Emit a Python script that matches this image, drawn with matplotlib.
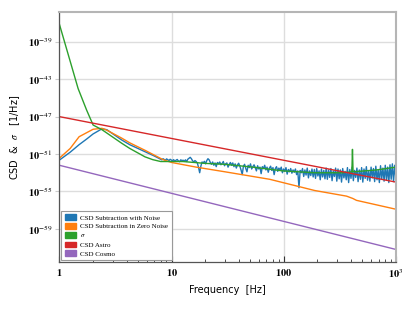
import numpy as np
import matplotlib
matplotlib.use('Agg')
import matplotlib.pyplot as plt
from matplotlib.patches import Patch

# log10 values
blue_f_low = [1, 1.25, 1.5, 1.75, 2.0, 2.4, 2.65, 3.6, 4.24, 5.8, 7.0]
blue_low = [-51.65, -50.8, -50.0, -49.4, -48.85, -48.3, -48.4, -49.5, -50.0, -50.75, -51.2]

blue_noise = [
    -51.55, -51.62, -51.50, -51.58, -51.66, -51.52, -51.60, -51.70, -51.56, -51.64,
    -51.72, -51.60, -51.78, -51.66, -51.58, -51.74, -51.82, -51.62, -51.70, -51.66,
    -51.75, -51.62, -51.80, -51.55, -51.45, -51.35, -51.50, -51.72, -51.85, -51.70,
    -51.80, -51.95, -52.40, -53.00, -52.30, -51.85, -51.95, -51.78, -52.05, -51.70,
    -51.50, -51.62, -51.90, -52.10, -51.85, -52.20, -51.95, -52.35, -51.90, -52.05,
    -51.85, -52.15, -52.00, -51.80, -52.25, -52.05, -51.95, -52.40, -52.10, -51.90,
    -52.20, -51.95, -52.35, -52.05, -52.50, -52.15, -51.98, -52.30, -52.70, -53.20,
    -52.30, -52.10, -52.55, -52.90, -52.20, -52.45, -52.05, -52.60, -52.35, -52.15,
    -52.45, -52.80, -52.25, -52.60, -52.40, -53.10, -52.35, -52.55, -52.20, -52.70,
    -52.40, -52.95, -52.50, -52.30, -52.75, -52.45, -53.20, -52.55, -52.35, -52.85,
    -52.50, -52.70, -52.40, -53.00, -52.60, -52.85, -52.45, -53.15, -52.65, -52.90,
    -52.55, -53.05, -52.70, -52.95, -52.60, -53.20, -52.80, -54.60, -52.75, -53.00,
    -52.55, -53.40, -52.70, -53.25, -52.50, -53.55, -52.80, -53.30, -52.60, -53.45,
    -52.65, -53.60, -52.55, -53.35, -52.80, -53.75, -52.60, -53.45, -52.75, -53.65,
    -52.50, -53.70, -52.70, -53.50, -52.55, -53.85, -52.80, -53.40, -52.50, -53.90,
    -52.60, -53.65, -52.70, -54.00, -52.55, -53.55, -52.85, -53.75, -52.45, -54.05,
    -52.65, -53.60, -52.40, -53.85, -52.75, -53.50, -52.50, -53.95, -52.70, -53.70,
    -52.45, -54.00, -52.60, -53.60, -52.35, -53.80, -52.80, -53.90, -52.40, -53.55,
    -52.55, -53.95, -52.30, -53.75, -52.70, -54.05, -52.25, -53.65, -52.50, -53.90,
    -52.20, -53.80, -52.40, -54.05, -52.15, -53.70, -52.05, -53.95, -52.20, -53.60,
]

orange_f = [1, 1.25, 1.5, 2.0, 2.4, 2.65, 3.6, 4.24, 5.8, 8.4, 10, 16.6, 30, 75, 139, 189, 363, 413, 445, 1000]
orange = [-51.45, -50.4, -49.15, -48.35, -48.25, -48.45, -49.3, -49.8, -50.6, -51.6, -51.9,
          -52.4, -52.9, -53.7, -54.5, -54.9, -55.5, -55.75, -55.95, -56.9]

green_f = [1.0, 1.47, 1.75, 2.0, 2.4, 3.6, 4.24, 5.8, 6.8, 8.0, 12.6, 20, 30, 53, 98, 189,
           336, 405, 410, 415, 671, 1000]
green = [-37.1, -44.0, -46.3, -47.9, -48.4, -49.85, -50.4, -51.3, -51.6, -51.8, -51.8, -52.0,
         -52.1, -52.4, -52.8, -53.0, -53.0, -52.9, -50.5, -52.9, -52.7, -52.4]

red_f = [1, 1000]
red = [-47.0, -54.0]

purple_f = [1, 1000]
purple = [-52.2, -61.2]

labels = ['CSD Subtraction with Noise', 'CSD Subtraction in Zero Noise', r'$\sigma$',
          'CSD Astro', 'CSD Cosmo']
colors = ['#1f77b4', '#ff7f0e', '#2ca02c', '#d62728', '#9467bd']

plt.rcParams['mathtext.fontset'] = 'stix'

fig = plt.figure(figsize=(4.15, 3.12), dpi=100)
ax = fig.add_axes([0.143, 0.160, 0.811, 0.802])

blue_f = list(blue_f_low) + list(np.geomspace(8, 1000, len(blue_noise)))
blue = list(blue_low) + blue_noise

lw = 1.0
ax.plot(blue_f, 10.0 ** np.array(blue), color=colors[0], lw=lw)
ax.plot(orange_f, 10.0 ** np.array(orange), color=colors[1], lw=lw)
ax.plot(green_f, 10.0 ** np.array(green), color=colors[2], lw=lw)
ax.plot(red_f, 10.0 ** np.array(red), color=colors[3], lw=lw)
ax.plot(purple_f, 10.0 ** np.array(purple), color=colors[4], lw=lw)

ax.set_xscale('log')
ax.set_yscale('log')
ax.set_xlim(1, 1000)
ax.set_ylim(10.0 ** -62.55, 10.0 ** -35.8)

yt = [-59, -55, -51, -47, -43, -39]
ax.set_yticks([10.0 ** v for v in yt])
ax.set_yticklabels([r'$\mathbf{10}^{%d}$' % v for v in yt])
ax.yaxis.set_minor_locator(matplotlib.ticker.NullLocator())
ax.set_xticks([1, 10, 100, 1000])
ax.set_xticklabels([r'$\mathbf{1}$', r'$\mathbf{10}$', r'$\mathbf{100}$', r'$\mathbf{10}^{3}$'])

for t in ax.get_xticklabels() + ax.get_yticklabels():
    t.set_fontsize(7.5)

ax.tick_params(axis='x', which='both', direction='in', colors='#333333', labelcolor='black')
ax.tick_params(axis='x', which='major', length=4, width=0.8)
ax.tick_params(axis='x', which='minor', length=2, width=0.6)
ax.tick_params(axis='y', which='major', direction='out', length=3, width=0.8, colors='#cccccc',
               labelcolor='black', pad=2)

ax.grid(True, which='major', color='#dddddd', lw=1.0)
ax.set_axisbelow(True)
for s in ['top', 'right']:
    ax.spines[s].set_color('#b5b5b5')
    ax.spines[s].set_linewidth(1.5)
for s in ['left', 'bottom']:
    ax.spines[s].set_color('#555555')
    ax.spines[s].set_linewidth(0.9)

ax.set_xlabel('Frequency  [Hz]', fontsize=7, fontfamily='DejaVu Sans', labelpad=4)
ax.set_ylabel(r'CSD  &  $\sigma$   [1/Hz]', fontsize=7, fontfamily='DejaVu Sans', labelpad=4)

handles = [Patch(color=c) for c in colors]
leg = ax.legend(handles, labels, loc='lower left', prop={'family': 'Liberation Serif', 'size': 5},
                fancybox=False, framealpha=1, edgecolor='#999999', handlelength=1.6,
                handleheight=0.9, borderpad=0.5, labelspacing=0.35, handletextpad=0.6,
                borderaxespad=0.3)
leg.get_frame().set_linewidth(0.8)

fig.savefig('out.png', dpi=100)
